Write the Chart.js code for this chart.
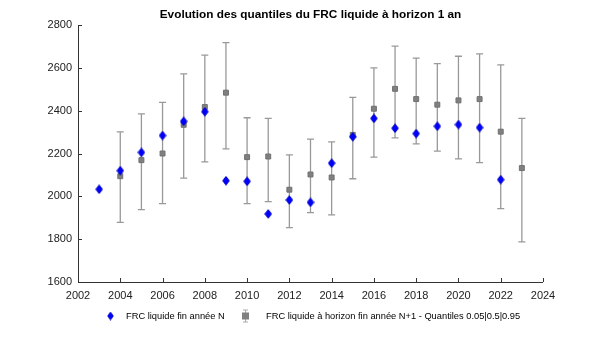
<!DOCTYPE html>
<html>
<head>
<meta charset="utf-8">
<script src="https://cdn.jsdelivr.net/npm/chart.js@4/dist/chart.umd.min.js"></script>
<style>
  body{margin:0;background:#fff;}
  #wrap{width:600px;height:359px;}
</style>
</head>
<body>
<div id="wrap"><canvas id="chart" width="600" height="359"></canvas></div>
<script>
// years and values
const yearsN = [2003,2004,2005,2006,2007,2008,2009,2010,2011,2012,2013,2014,2015,2016,2017,2018,2019,2020,2021,2022];
const frcN = [2033,2120,2205,2284,2350,2395,2073,2070,1918,1983,1972,2155,2278,2364,2318,2293,2327,2335,2321,2078];

const yearsQ = [2004,2005,2006,2007,2008,2009,2010,2011,2012,2013,2014,2015,2016,2017,2018,2019,2020,2021,2022,2023];
const q50 = [2094,2169,2200,2334,2417,2484,2183,2186,2031,2102,2088,2287,2409,2502,2454,2428,2448,2454,2302,2132];
const q95 = [2301,2385,2439,2572,2659,2718,2367,2364,2194,2267,2254,2462,2600,2701,2645,2620,2654,2665,2614,2364];
const q05 = [1878,1938,1966,2085,2161,2222,1966,1975,1854,1924,1913,2082,2183,2273,2245,2211,2175,2157,1943,1787];

const xTicks = [2002,2004,2006,2008,2010,2012,2014,2016,2018,2020,2022,2024];
const yTicks = [1600,1800,2000,2200,2400,2600,2800];

const TITLE = 'Evolution des quantiles du FRC liquide à horizon 1 an';
const LABEL_N = 'FRC liquide fin année N';
const LABEL_Q = 'FRC liquide à horizon fin année N+1 - Quantiles 0.05|0.5|0.95';

const FONT = "'Liberation Sans', Arial, sans-serif";

// elongated diamond marker
function makeDiamond(w, h){
  const c = document.createElement('canvas');
  c.width = w; c.height = h;
  const g = c.getContext('2d');
  g.beginPath();
  g.moveTo(w/2,0.7); g.lineTo(w-0.7,h/2); g.lineTo(w/2,h-0.7); g.lineTo(0.7,h/2); g.closePath();
  g.fillStyle = '#0000ff'; g.fill();
  g.strokeStyle = '#0000c8'; g.lineWidth = 1; g.stroke();
  return c;
}
const diamond = makeDiamond(8, 10);
const legendDiamond = makeDiamond(7, 9);

function drawBar(ctx, px, top, bot, cap){
  ctx.beginPath();
  ctx.moveTo(px, top); ctx.lineTo(px, bot);
  ctx.moveTo(px-cap, top); ctx.lineTo(px+cap, top);
  ctx.moveTo(px-cap, bot); ctx.lineTo(px+cap, bot);
  ctx.stroke();
}

const errorBars = {
  id: 'errorBars',
  beforeDatasetsDraw(chart){
    const ctx = chart.ctx, xs = chart.scales.x, ys = chart.scales.y;
    ctx.save();
    ctx.strokeStyle = '#999999';
    ctx.lineWidth = 1.3;
    for (let i = 0; i < yearsQ.length; i++){
      const px = xs.getPixelForValue(yearsQ[i]);
      drawBar(ctx, px, ys.getPixelForValue(q95[i]), ys.getPixelForValue(q05[i]), 3.5);
    }
    ctx.restore();
  }
};

const frame = {
  id: 'frame',
  afterDraw(chart){
    const ctx = chart.ctx, xs = chart.scales.x, ys = chart.scales.y;
    const a = chart.chartArea;
    ctx.save();
    // axes with inward ticks
    ctx.strokeStyle = '#333';
    ctx.lineWidth = 1;
    ctx.beginPath();
    ctx.moveTo(a.left+0.5, a.top); ctx.lineTo(a.left+0.5, a.bottom+0.5); ctx.lineTo(a.right, a.bottom+0.5);
    for (const t of yTicks){
      const py = Math.round(ys.getPixelForValue(t)) + 0.5;
      ctx.moveTo(a.left, py); ctx.lineTo(a.left+4, py);
    }
    for (const t of xTicks){
      const px = Math.round(xs.getPixelForValue(t)) + 0.5;
      ctx.moveTo(px, a.bottom); ctx.lineTo(px, a.bottom-4);
    }
    ctx.stroke();

    // title centred over the plot
    ctx.fillStyle = '#000';
    ctx.font = 'bold 11.8px ' + FONT;
    ctx.textAlign = 'center';
    ctx.textBaseline = 'middle';
    ctx.fillText(TITLE, (a.left + a.right) / 2, 15);

    // legend
    const ly = 316;
    ctx.font = '9.3px ' + FONT;
    ctx.textAlign = 'left';
    ctx.drawImage(legendDiamond, 107, ly - 4.5);
    ctx.fillText(LABEL_N, 126, ly);
    ctx.strokeStyle = '#aaaaaa';
    ctx.lineWidth = 1;
    drawBar(ctx, 245.5, ly - 6, ly + 6, 2.5);
    ctx.fillStyle = '#808080';
    ctx.fillRect(242, ly - 3.5, 7, 7);
    ctx.fillStyle = '#000';
    ctx.fillText(LABEL_Q, 266, ly);
    ctx.restore();
  }
};

new Chart(document.getElementById('chart'), {
  type: 'scatter',
  data: {
    datasets: [
      {
        label: LABEL_N,
        data: yearsN.map((y, i) => ({x: y, y: frcN[i]})),
        pointStyle: diamond,
        pointRadius: 5,
        order: 1
      },
      {
        label: LABEL_Q,
        data: yearsQ.map((y, i) => ({x: y, y: q50[i]})),
        pointStyle: 'rect',
        pointRadius: 3.5,
        backgroundColor: '#808080',
        borderColor: '#707070',
        borderWidth: 1,
        order: 2
      }
    ]
  },
  options: {
    responsive: false,
    animation: false,
    layout: {padding: {left: 0, right: 57, top: 25, bottom: 53}},
    plugins: {
      title: {display: false},
      legend: {display: false},
      tooltip: {enabled: false}
    },
    scales: {
      x: {
        type: 'linear',
        min: 2002, max: 2024,
        afterBuildTicks(s){ s.ticks = xTicks.map(v => ({value: v})); },
        afterFit(s){ s.height = 24; },
        grid: {display: false, drawTicks: false},
        border: {display: false},
        ticks: {color: '#222', font: {family: FONT, size: 11}, padding: 7, maxRotation: 0, callback: v => String(v)}
      },
      y: {
        min: 1600, max: 2800,
        afterBuildTicks(s){ s.ticks = yTicks.map(v => ({value: v})); },
        afterFit(s){ s.width = 78; },
        grid: {display: false, drawTicks: false},
        border: {display: false},
        ticks: {color: '#222', font: {family: FONT, size: 11}, padding: 6, callback: v => String(v)}
      }
    }
  },
  plugins: [errorBars, frame]
});
</script>
</body>
</html>
